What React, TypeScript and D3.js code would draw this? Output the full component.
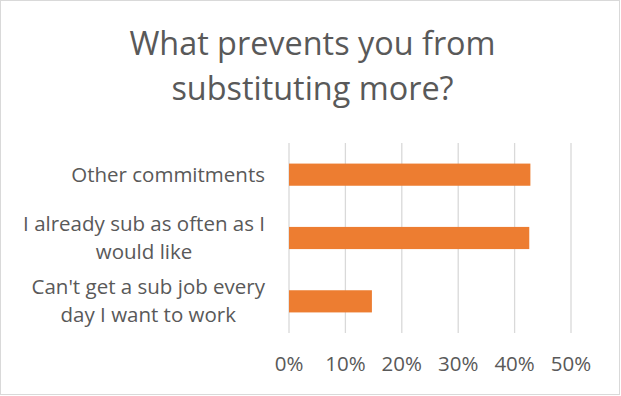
import React from "react";
import * as d3 from "d3";

const categories = [
  "Other commitments",
  "I already sub as often as I would like",
  "Can't get a sub job every day I want to work",
];
const categoryLines = [
  ["Other commitments"],
  ["I already sub as often as I", "would like"],
  ["Can't get a sub job every", "day I want to work"],
];
const values = [0.428, 0.426, 0.147];
const ticks = [0, 0.1, 0.2, 0.3, 0.4, 0.5];
const titleLines = ["What prevents you from", "substituting more?"];

const W = 621;
const H = 396;
const FONT = "'Open Sans', Lato, sans-serif";
const LABEL_SIZE = 20.5;

function measure(text: string, size: number) {
  const c = document.createElement("canvas").getContext("2d");
  if (!c) return text.length * size * 0.5;
  c.font = `${size}px 'Open Sans'`;
  return c.measureText(text).width;
}

export default function App() {
  const x = d3.scaleLinear().domain([0, 0.5]).range([289, 571]);
  const y = d3
    .scaleBand<string>()
    .domain(categories)
    .range([143, 333])
    .paddingInner(0.65)
    .paddingOuter(0.325);
  const fmt = d3.format(".0%");
  const lineH = 28;
  const right = 265;
  return (
    <svg
      width={W}
      height={H}
      style={{ position: "absolute", left: 0, top: 0, background: "#fff" }}
      fontFamily={FONT}
    >
      <rect x={0.5} y={0.5} width={W - 2} height={H - 2} fill="#fff" stroke="#D9D9D9" />
      {titleLines.map((t, i) => (
        <text
          key={t}
          x={312.5}
          y={55 + i * 45}
          textAnchor="middle"
          fontSize={32.4}
          fill="#595959"
        >
          {t}
        </text>
      ))}
      {ticks.map((t) => (
        <line key={t} x1={x(t)} x2={x(t)} y1={143} y2={333} stroke="#D9D9D9" strokeWidth={1.3} />
      ))}
      {categories.map((c, i) => (
        <rect
          key={c}
          x={x(0)}
          y={y(c)}
          width={x(values[i]) - x(0)}
          height={y.bandwidth()}
          fill="#ED7D31"
        />
      ))}
      {ticks.map((t) => (
        <text key={t} x={x(t)} y={371} textAnchor="middle" fontSize={LABEL_SIZE} fill="#595959">
          {fmt(t)}
        </text>
      ))}
      {categories.map((c, i) => {
        const lines = categoryLines[i];
        const cy = y(c)! + y.bandwidth() / 2;
        const maxW = Math.max(...lines.map((l) => measure(l, LABEL_SIZE)));
        const cx = right - maxW / 2;
        return (
          <g key={c}>
            {lines.map((l, j) => (
              <text
                key={j}
                x={cx}
                y={cy + 7 + (j - (lines.length - 1) / 2) * lineH}
                textAnchor="middle"
                fontSize={LABEL_SIZE}
                fill="#595959"
              >
                {l}
              </text>
            ))}
          </g>
        );
      })}
    </svg>
  );
}
